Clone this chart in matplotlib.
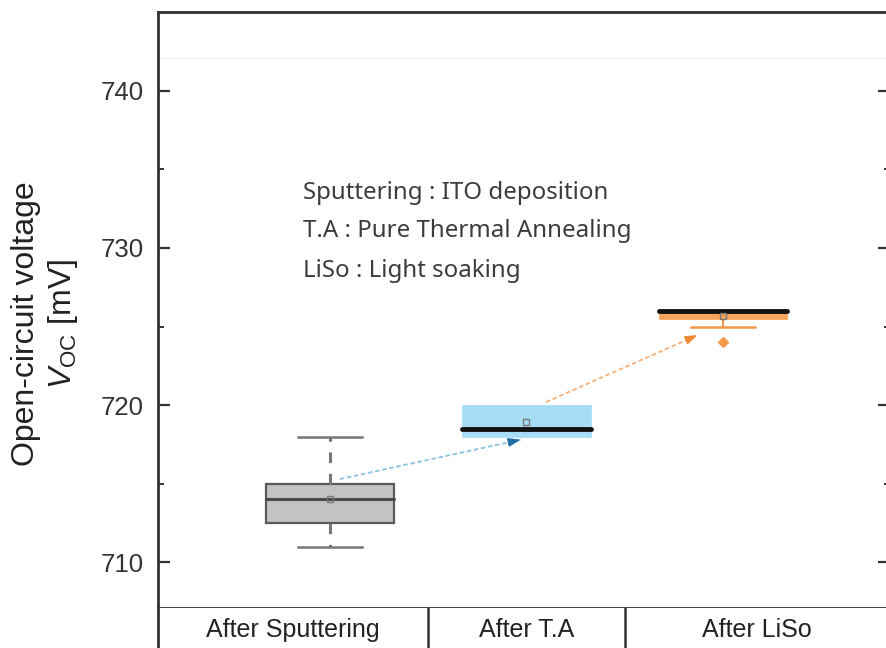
import matplotlib
matplotlib.use("Agg")
import matplotlib.pyplot as plt

plt.rcParams["mathtext.fontset"] = "custom"
plt.rcParams["mathtext.it"] = "Liberation Sans:italic"
plt.rcParams["mathtext.rm"] = "Liberation Sans"

# ---------------- data ----------------
categories = ["After Sputtering", "After T.A", "After LiSo"]
positions = [1, 2, 3]
whislo = [711.0, 718.0, 725.0]
q1 = [712.5, 718.0, 725.5]
med = [714.0, 718.5, 726.0]
q3 = [715.0, 720.0, 726.0]
whishi = [718.0, 720.0, 726.0]
means = [714.0, 718.9, 725.7]
fliers = [[], [], [724.0]]

notes = ["Sputtering : ITO deposition",
         "T.A : Pure Thermal Annealing",
         "LiSo : Light soaking"]

yticks_major = [710, 720, 730, 740]
yticks_minor = [715, 725, 735]

# arrows between stages (start, end) in data coords
arrow_starts = [(1.05, 715.3), (2.10, 720.2)]
arrow_ends = [(1.97, 717.8), (2.87, 724.45)]

# ---------------- style ----------------
fill_colors = ["#c3c3c3", "#a7dcf5", "#f6a45a"]
edge_colors = ["#5a5a5a", "#a7dcf5", "#f6a45a"]
median_colors = ["#4a4a4a", "#111111", "#111111"]
median_widths = [2.2, 3.5, 3.5]
whisker_colors = ["#777777", "#a7dcf5", "#f39a4a"]
arrow_line_colors = ["#8cc3e0", "#f5b27a"]
arrow_head_colors = ["#1f6fa8", "#ee8a30"]

fig = plt.figure(figsize=(8.86, 6.48), dpi=100)
W, H = 886, 648
left_px, right_px, top_px, bot_px = 158, 890, 12, 608
ax = fig.add_axes([left_px / W, 1 - bot_px / H,
                   (right_px - left_px) / W, (bot_px - top_px) / H])

stats = []
for i in range(len(categories)):
    stats.append(dict(med=med[i], q1=q1[i], q3=q3[i], whislo=whislo[i],
                      whishi=whishi[i], mean=means[i], fliers=fliers[i],
                      label=categories[i]))

bp = ax.bxp(stats, positions=positions, widths=0.655, patch_artist=True,
            showmeans=True, showfliers=True, capwidths=0.33)

for i in range(len(categories)):
    b = bp["boxes"][i]
    b.set_facecolor(fill_colors[i])
    b.set_edgecolor(edge_colors[i])
    b.set_linewidth(1.6 if i == 0 else 0.5)
    m = bp["medians"][i]
    m.set_color(median_colors[i])
    m.set_linewidth(median_widths[i])
    m.set_solid_capstyle("round")
    for w in bp["whiskers"][2 * i:2 * i + 2]:
        w.set_color(whisker_colors[i])
        w.set_linewidth(2.2 if i == 0 else 1.5)
        if i == 0:
            w.set_linestyle((0, (3.5, 3.5)))
    for c in bp["caps"][2 * i:2 * i + 2]:
        c.set_color(whisker_colors[i])
        c.set_linewidth(1.8)
    mn = bp["means"][i]
    mn.set_marker("s")
    mn.set_markerfacecolor("none")
    mn.set_markeredgecolor("#777777")
    mn.set_markersize(4.5)
    mn.set_markeredgewidth(1.0)
    fl = bp["fliers"][i]
    fl.set_marker("D")
    fl.set_markerfacecolor(whisker_colors[i])
    fl.set_markeredgecolor(whisker_colors[i])
    fl.set_markersize(5)

# hide caps that coincide with box edges
bp["caps"][2].set_visible(False)
bp["caps"][3].set_visible(False)
bp["caps"][5].set_visible(False)

# arrows
for i in range(len(arrow_starts)):
    (x0, y0), (x1, y1) = arrow_starts[i], arrow_ends[i]
    ax.plot([x0, x1], [y0, y1], ls=(0, (2.5, 1.5)), lw=1.3,
            color=arrow_line_colors[i], zorder=1)
    t = 0.06
    ax.annotate("", xy=(x1, y1), xytext=(x1 - t * (x1 - x0), y1 - t * (y1 - y0)),
                arrowprops=dict(arrowstyle="-|>,head_length=0.7,head_width=0.25",
                                color=arrow_head_colors[i], lw=1.2,
                                shrinkA=0, shrinkB=0), zorder=3)

# faint line near the top
ax.axhline(742.1, color="#eeeeee", lw=0.8, zorder=0)

# notes
note_y = [733.5, 731.05, 728.55]
for s, y in zip(notes, note_y):
    ax.text(0.862, y, s, fontsize=17.3, family=["Noto Sans", "DejaVu Sans"],
            color="#3c3c3c", va="center", ha="left")

ax.set_xlim(0.125, 3.85)
ax.set_ylim(707.1, 745.0)
ax.set_xticks([])
ax.set_yticks(yticks_major)
ax.set_yticks(yticks_minor, minor=True)
ax.set_yticklabels([str(v) for v in yticks_major])
ax.tick_params(axis="y", which="major", direction="in", length=8.5, width=1.6,
               right=True, labelsize=18.5, pad=10, colors="#333333",
               labelcolor="#333333")
ax.tick_params(axis="y", which="minor", direction="in", length=4.5, width=1.4,
               right=True, colors="#333333")
for lab in ax.get_yticklabels():
    lab.set_family(["Liberation Sans", "DejaVu Sans"])
for sp in ax.spines.values():
    sp.set_linewidth(2.0)
    sp.set_color("#333333")

# category row below
ax2 = fig.add_axes([left_px / W, 1 - 652 / H, (right_px - left_px) / W, 44 / H])
ax2.set_xlim(ax.get_xlim())
ax2.set_ylim(0, 1)
ax2.set_xticks([])
ax2.set_yticks([])
for sp in ax2.spines.values():
    sp.set_linewidth(2.0)
    sp.set_color("#333333")
ax2.spines["top"].set_visible(False)
ax2.spines["bottom"].set_visible(False)
bounds = [0.125, 1.5, 2.5, 3.85]
for b in bounds[1:-1]:
    ax2.axvline(b, color="#333333", lw=1.8)
for i, c in enumerate(categories):
    ax2.text((bounds[i] + bounds[i + 1]) / 2, 0.5, c, ha="center", va="center",
             fontsize=18, family=["Liberation Sans", "DejaVu Sans"], color="#222222")

# y label
fig.text(46 / W, 1 - 324 / H, "Open-circuit voltage\n$V_{\\rm OC}$ [mV]",
         rotation=90, ha="center", va="center", multialignment="center",
         fontsize=23, family=["Liberation Sans", "DejaVu Sans"], color="#222222",
         linespacing=1.2)

fig.savefig("out.png", dpi=100)
